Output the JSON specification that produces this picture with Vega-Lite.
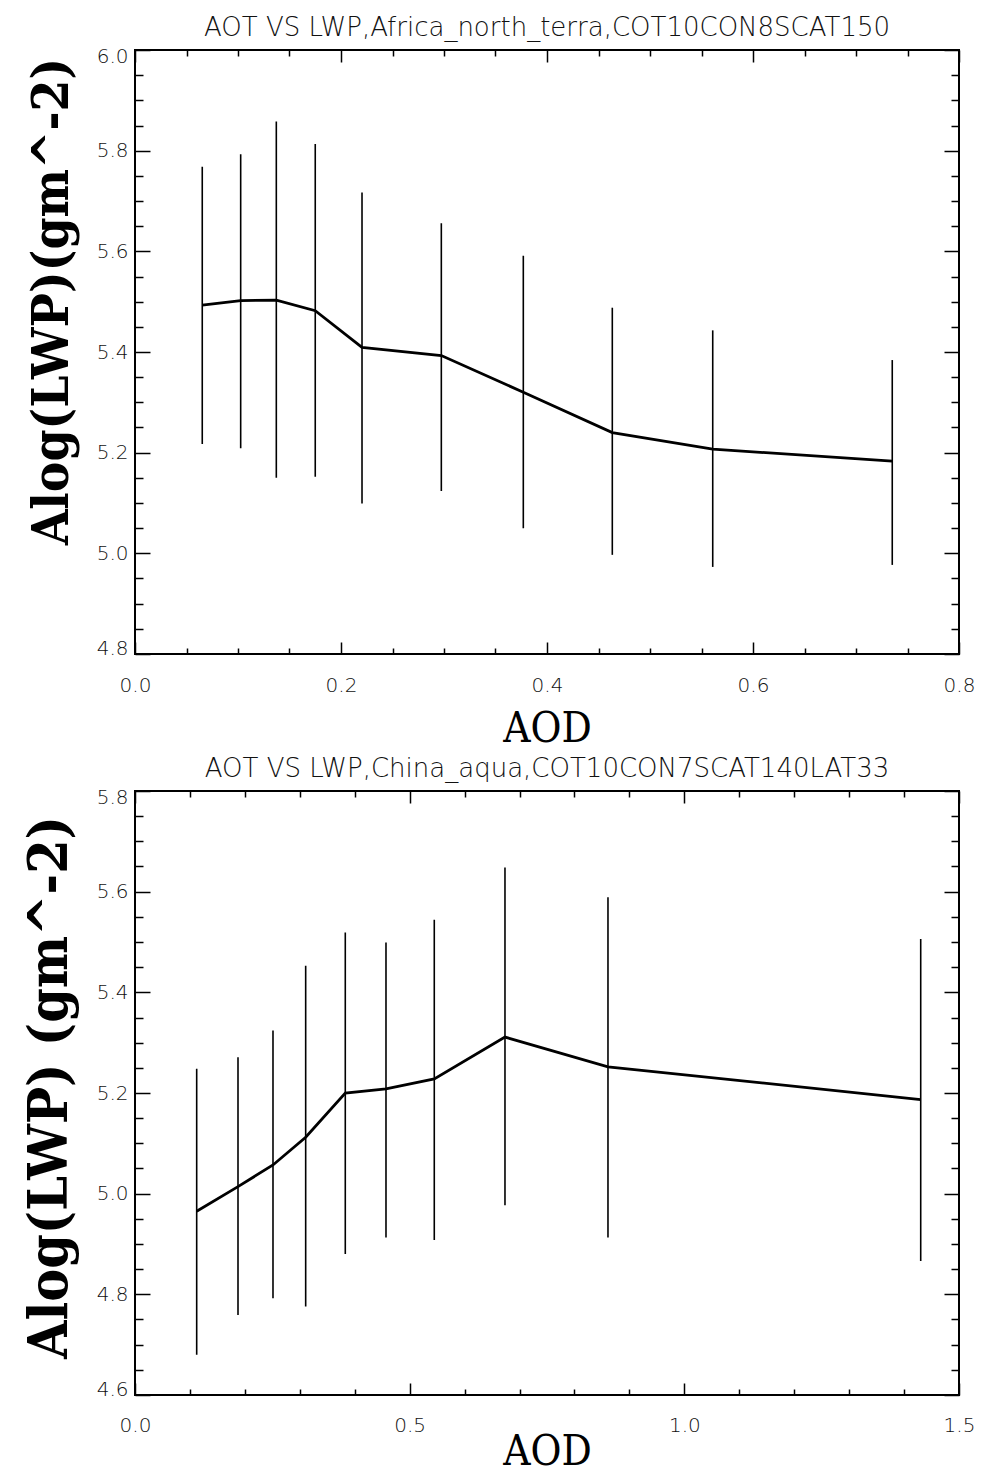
{
  "$schema": "https://vega.github.io/schema/vega-lite/v6.json",
  "background": "white",
  "padding": {"left": 21, "top": 14, "right": 5, "bottom": 5},
  "spacing": 5,
  "config": {
    "view": {"stroke": "black", "strokeWidth": 2},
    "axis": {
      "domain": false,
      "grid": false,
      "tickColor": "black",
      "tickWidth": 1.5,
      "labelFont": "DejaVu Sans",
      "labelFontSize": 20,
      "labelFontWeight": 200,
      "labelColor": "#111",
      "labelOverlap": false,
      "titleColor": "black",
      "titleFont": "DejaVu Serif Condensed, Liberation Serif"
    },
    "title": {"font": "DejaVu Sans", "fontSize": 26, "fontWeight": 200, "color": "#111", "offset": 5}
  },
  "datasets": {
    "africa": [
      {"aod": 0.0653, "lwp": 5.493, "low": 5.217, "high": 5.768},
      {"aod": 0.1026, "lwp": 5.502, "low": 5.209, "high": 5.793},
      {"aod": 0.1372, "lwp": 5.503, "low": 5.150, "high": 5.858},
      {"aod": 0.1750, "lwp": 5.482, "low": 5.152, "high": 5.813},
      {"aod": 0.2204, "lwp": 5.409, "low": 5.099, "high": 5.717},
      {"aod": 0.2974, "lwp": 5.393, "low": 5.124, "high": 5.656},
      {"aod": 0.3770, "lwp": 5.320, "low": 5.050, "high": 5.591},
      {"aod": 0.4634, "lwp": 5.240, "low": 4.997, "high": 5.488},
      {"aod": 0.5609, "lwp": 5.207, "low": 4.973, "high": 5.443},
      {"aod": 0.7352, "lwp": 5.183, "low": 4.977, "high": 5.384}
    ],
    "china": [
      {"aod": 0.1123, "lwp": 4.965, "low": 4.680, "high": 5.248},
      {"aod": 0.1875, "lwp": 5.014, "low": 4.759, "high": 5.271},
      {"aod": 0.2512, "lwp": 5.057, "low": 4.792, "high": 5.324},
      {"aod": 0.3107, "lwp": 5.112, "low": 4.776, "high": 5.453},
      {"aod": 0.3828, "lwp": 5.200, "low": 4.880, "high": 5.519},
      {"aod": 0.4569, "lwp": 5.208, "low": 4.913, "high": 5.499},
      {"aod": 0.5448, "lwp": 5.228, "low": 4.908, "high": 5.544},
      {"aod": 0.6735, "lwp": 5.311, "low": 4.977, "high": 5.648},
      {"aod": 0.8610, "lwp": 5.252, "low": 4.913, "high": 5.589},
      {"aod": 1.4303, "lwp": 5.187, "low": 4.866, "high": 5.506}
    ]
  },
  "vconcat": [
    {
      "width": 824,
      "height": 604,
      "title": {"text": "AOT VS LWP,Africa_north_terra,COT10CON8SCAT150"},
      "data": {"name": "africa"},
      "layer": [
        {
          "mark": {"type": "rule", "color": "black", "strokeWidth": 1.6},
          "encoding": {
            "x": {"field": "aod", "type": "quantitative", "scale": {"domain": [0, 0.8], "nice": false, "zero": false},
              "axis": {"orient": "top", "title": null, "labels": false,
                "values": [0, 0.05, 0.1, 0.15, 0.2, 0.25, 0.3, 0.35, 0.4, 0.45, 0.5, 0.55, 0.6, 0.65, 0.7, 0.75, 0.8],
                "tickSize": {"condition": {"test": "abs(datum.value*5 - round(datum.value*5)) < 0.001", "value": -12}, "value": -6}}},
            "y": {"field": "low", "type": "quantitative", "scale": {"domain": [4.8, 6.0], "nice": false, "zero": false},
              "axis": {"orient": "right", "title": null, "labels": false,
                "values": [4.8, 4.85, 4.9, 4.95, 5.0, 5.05, 5.1, 5.15, 5.2, 5.25, 5.3, 5.35, 5.4, 5.45, 5.5, 5.55, 5.6, 5.65, 5.7, 5.75, 5.8, 5.85, 5.9, 5.95, 6.0],
                "tickSize": {"condition": {"test": "abs(datum.value*5 - round(datum.value*5)) < 0.001", "value": -15}, "value": -8}}},
            "y2": {"field": "high"}
          }
        },
        {
          "mark": {"type": "line", "color": "black", "strokeWidth": 2.8},
          "encoding": {
            "x": {"field": "aod", "type": "quantitative", "scale": {"domain": [0, 0.8], "nice": false, "zero": false},
              "axis": {"orient": "bottom", "title": "AOD", "titleFontSize": 42, "titleFontWeight": "normal", "titlePadding": 7,
                "labelPadding": 33, "labelFlush": false,
                "values": [0, 0.05, 0.1, 0.15, 0.2, 0.25, 0.3, 0.35, 0.4, 0.45, 0.5, 0.55, 0.6, 0.65, 0.7, 0.75, 0.8],
                "labelExpr": "abs(datum.value*5 - round(datum.value*5)) < 0.001 ? format(datum.value, '.1f') : ''",
                "tickSize": {"condition": {"test": "abs(datum.value*5 - round(datum.value*5)) < 0.001", "value": -12}, "value": -6}}},
            "y": {"field": "lwp", "type": "quantitative", "scale": {"domain": [4.8, 6.0], "nice": false, "zero": false},
              "axis": {"orient": "left", "title": "Alog(LWP)(gm^-2)", "titleFontSize": 51, "titleFontWeight": "bold", "titlePadding": 18, "titleY": 251,
                "labelPadding": 22, "labelFlush": true, "labelFlushOffset": 4,
                "values": [4.8, 4.85, 4.9, 4.95, 5.0, 5.05, 5.1, 5.15, 5.2, 5.25, 5.3, 5.35, 5.4, 5.45, 5.5, 5.55, 5.6, 5.65, 5.7, 5.75, 5.8, 5.85, 5.9, 5.95, 6.0],
                "labelExpr": "abs(datum.value*5 - round(datum.value*5)) < 0.001 ? format(datum.value, '.1f') : ''",
                "tickSize": {"condition": {"test": "abs(datum.value*5 - round(datum.value*5)) < 0.001", "value": -15}, "value": -8}}}
          }
        }
      ],
      "resolve": {"axis": {"x": "independent", "y": "independent"}}
    },
    {
      "width": 824,
      "height": 604,
      "title": {"text": "AOT VS LWP,China_aqua,COT10CON7SCAT140LAT33"},
      "data": {"name": "china"},
      "layer": [
        {
          "mark": {"type": "rule", "color": "black", "strokeWidth": 1.6},
          "encoding": {
            "x": {"field": "aod", "type": "quantitative", "scale": {"domain": [0, 1.5], "nice": false, "zero": false},
              "axis": {"orient": "top", "title": null, "labels": false,
                "values": [0, 0.1, 0.2, 0.3, 0.4, 0.5, 0.6, 0.7, 0.8, 0.9, 1.0, 1.1, 1.2, 1.3, 1.4, 1.5],
                "tickSize": {"condition": {"test": "abs(datum.value*2 - round(datum.value*2)) < 0.001", "value": -12}, "value": -6}}},
            "y": {"field": "low", "type": "quantitative", "scale": {"domain": [4.6, 5.8], "nice": false, "zero": false},
              "axis": {"orient": "right", "title": null, "labels": false,
                "values": [4.6, 4.65, 4.7, 4.75, 4.8, 4.85, 4.9, 4.95, 5.0, 5.05, 5.1, 5.15, 5.2, 5.25, 5.3, 5.35, 5.4, 5.45, 5.5, 5.55, 5.6, 5.65, 5.7, 5.75, 5.8],
                "tickSize": {"condition": {"test": "abs(datum.value*5 - round(datum.value*5)) < 0.001", "value": -15}, "value": -8}}},
            "y2": {"field": "high"}
          }
        },
        {
          "mark": {"type": "line", "color": "black", "strokeWidth": 2.8},
          "encoding": {
            "x": {"field": "aod", "type": "quantitative", "scale": {"domain": [0, 1.5], "nice": false, "zero": false},
              "axis": {"orient": "bottom", "title": "AOD", "titleFontSize": 42, "titleFontWeight": "normal", "titlePadding": -10,
                "labelPadding": 32, "labelFlush": false,
                "values": [0, 0.1, 0.2, 0.3, 0.4, 0.5, 0.6, 0.7, 0.8, 0.9, 1.0, 1.1, 1.2, 1.3, 1.4, 1.5],
                "labelExpr": "abs(datum.value*2 - round(datum.value*2)) < 0.001 ? format(datum.value, '.1f') : ''",
                "tickSize": {"condition": {"test": "abs(datum.value*2 - round(datum.value*2)) < 0.001", "value": -12}, "value": -6}}},
            "y": {"field": "lwp", "type": "quantitative", "scale": {"domain": [4.6, 5.8], "nice": false, "zero": false},
              "axis": {"orient": "left", "title": "Alog(LWP) (gm^-2)", "titleFontSize": 55, "titleFontWeight": "bold", "titlePadding": 18, "titleY": 296,
                "labelPadding": 22, "labelFlush": true, "labelFlushOffset": 4,
                "values": [4.6, 4.65, 4.7, 4.75, 4.8, 4.85, 4.9, 4.95, 5.0, 5.05, 5.1, 5.15, 5.2, 5.25, 5.3, 5.35, 5.4, 5.45, 5.5, 5.55, 5.6, 5.65, 5.7, 5.75, 5.8],
                "labelExpr": "abs(datum.value*5 - round(datum.value*5)) < 0.001 ? format(datum.value, '.1f') : ''",
                "tickSize": {"condition": {"test": "abs(datum.value*5 - round(datum.value*5)) < 0.001", "value": -15}, "value": -8}}}
          }
        }
      ],
      "resolve": {"axis": {"x": "independent", "y": "independent"}}
    }
  ]
}
